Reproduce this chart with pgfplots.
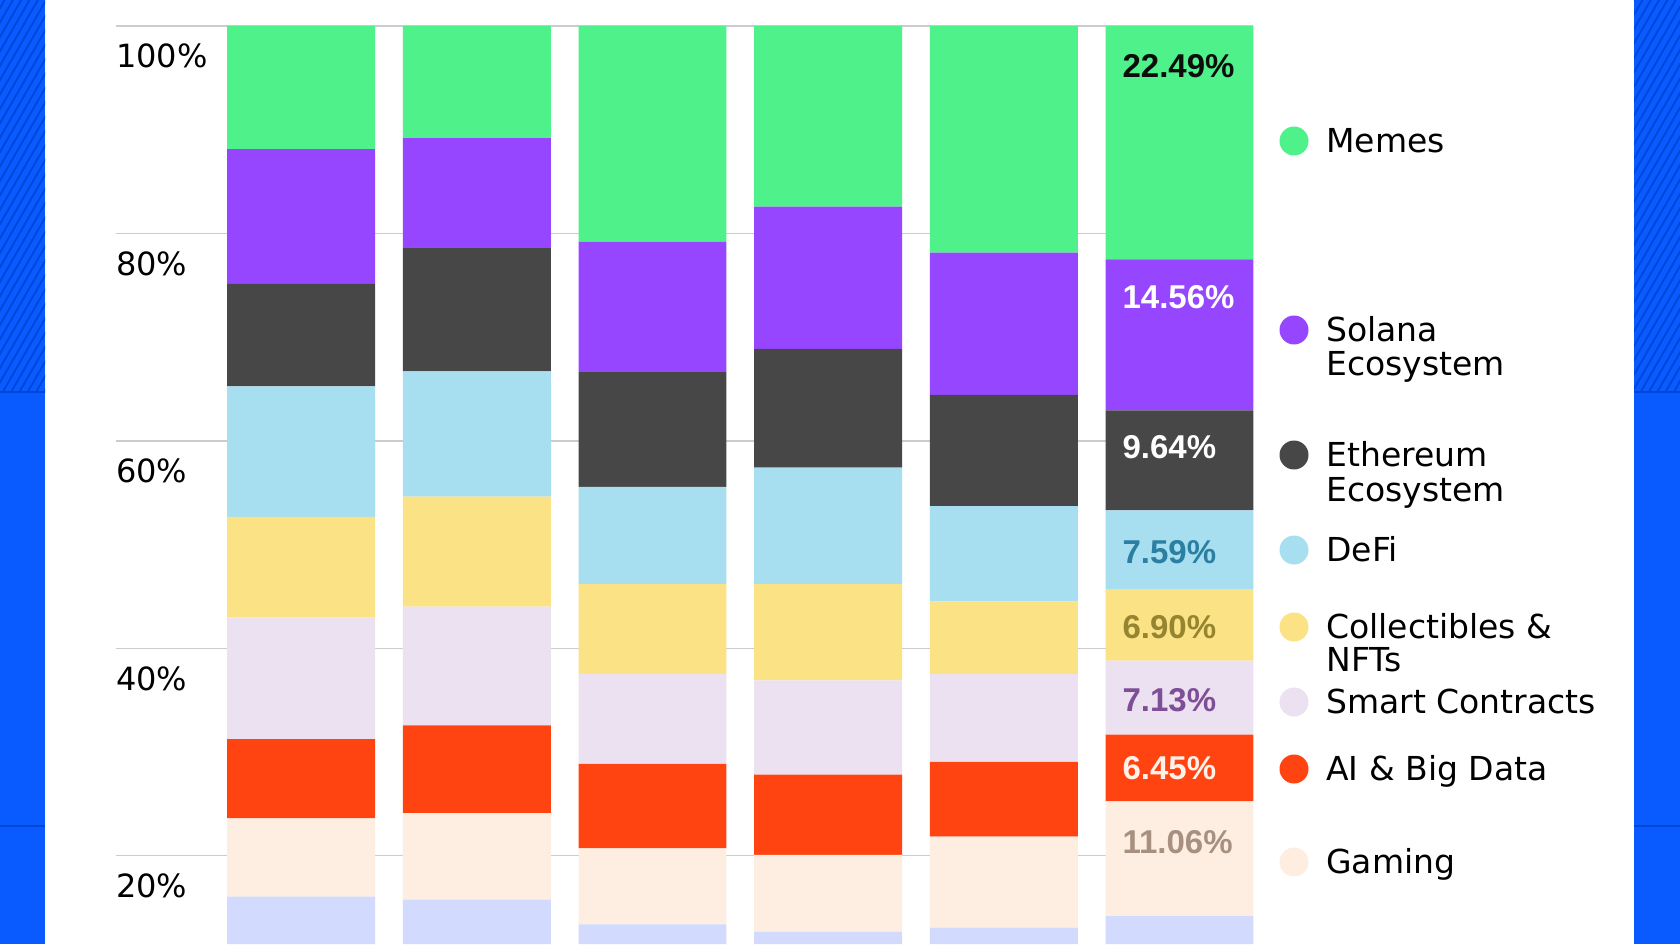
\documentclass[border=0pt]{standalone}
\usepackage{pgfplots}
\pgfplotsset{compat=1.18}
\usepackage{fontspec}
\setmainfont{DejaVu Sans}
\newfontfamily\lblfont{Liberation Sans}
\usetikzlibrary{patterns.meta}
\definecolor{cbblue}{HTML}{0A5BFF}
\definecolor{hatch}{HTML}{0046D8}
\definecolor{gridgray}{HTML}{CCCCCC}
\definecolor{cMemes}{HTML}{4FF28A}
\definecolor{cSol}{HTML}{9646FF}
\definecolor{cEth}{HTML}{474747}
\definecolor{cDefi}{HTML}{A7DFF0}
\definecolor{cColl}{HTML}{FBE285}
\definecolor{cSmart}{HTML}{ECE1F0}
\definecolor{cAI}{HTML}{FF4411}
\definecolor{cGame}{HTML}{FEEEE2}
\definecolor{cOther}{HTML}{D2DAFE}
\definecolor{tDefi}{HTML}{2B7FA0}
\definecolor{tColl}{HTML}{958530}
\definecolor{tSmart}{HTML}{7E4E96}
\definecolor{tGame}{HTML}{A89080}
\definecolor{tAI}{HTML}{FFF2EA}
\begin{document}
\begin{tikzpicture}[x=0.5pt,y=0.5pt]
\useasboundingbox (0,0) rectangle (1680,944);
\fill[white] (0,0) rectangle (1680,944);
\fill[cbblue] (0,0) rectangle (45,944);
\fill[cbblue] (1634,0) rectangle (1680,944);
\fill[pattern={Lines[angle=60,distance=3.6pt,line width=0.9pt]},pattern color=hatch] (0,552) rectangle (45,944);
\fill[pattern={Lines[angle=60,distance=3.6pt,line width=0.9pt]},pattern color=hatch] (1634,552) rectangle (1680,944);
\draw[hatch,line width=0.6pt] (0,552) -- (45,552) (1634,552) -- (1680,552);
\draw[hatch,line width=0.8pt] (0,118) -- (45,118) (1634,118) -- (1680,118);
\begin{axis}[at={(57.85pt,0pt)},anchor=south west,scale only axis,
  width=568.85pt,height=459pt,
  xmin=-1.055,xmax=5.42,ymin=11.5,ymax=100,
  ybar stacked,bar width=0.842,
  axis line style={draw=none},xtick=\empty,
  ytick={20,40,60,80,100},yticklabels={},major tick length=0pt,
  ymajorgrids,grid style={draw=gridgray,line width=0.6pt}]
% Other (bottom, partly cut off)
\addplot[fill=cOther,draw=none] coordinates {(0,16.08) (1,15.77) (2,13.40) (3,12.68) (4,13.09) (5,14.18)};
% Gaming
\addplot[fill=cGame,draw=none] coordinates {(0,7.53) (1,8.35) (2,7.32) (3,7.42) (4,8.77) (5,11.06)};
% AI & Big Data
\addplot[fill=cAI,draw=none] coordinates {(0,7.63) (1,8.46) (2,8.15) (3,7.74) (4,7.21) (5,6.45)};
% Smart Contracts
\addplot[fill=cSmart,draw=none] coordinates {(0,11.75) (1,11.44) (2,8.66) (3,9.07) (4,8.46) (5,7.13)};
% Collectibles & NFTs
\addplot[fill=cColl,draw=none] coordinates {(0,9.69) (1,10.62) (2,8.66) (3,9.28) (4,7.01) (5,6.90)};
% DeFi
\addplot[fill=cDefi,draw=none] coordinates {(0,12.58) (1,12.06) (2,9.38) (3,11.23) (4,9.17) (5,7.59)};
% Ethereum Ecosystem
\addplot[fill=cEth,draw=none] coordinates {(0,9.89) (1,11.96) (2,11.13) (3,11.45) (4,10.72) (5,9.64)};
% Solana Ecosystem
\addplot[fill=cSol,draw=none] coordinates {(0,12.99) (1,10.52) (2,12.48) (3,13.71) (4,13.71) (5,14.56)};
% Memes
\addplot[fill=cMemes,draw=none] coordinates {(0,11.86) (1,10.82) (2,20.82) (3,17.42) (4,21.86) (5,22.49)};
% anchor points for tick labels and value labels
\coordinate (T20) at (axis cs:-1.055,20);
\coordinate (T40) at (axis cs:-1.055,40);
\coordinate (T60) at (axis cs:-1.055,60);
\coordinate (T80) at (axis cs:-1.055,80);
\coordinate (T100) at (axis cs:-1.055,100);
\coordinate (L1) at (axis cs:4.673,95.06);
\coordinate (L2) at (axis cs:4.673,72.79);
\coordinate (L3) at (axis cs:4.673,58.34);
\coordinate (L4) at (axis cs:4.673,48.14);
\coordinate (L5) at (axis cs:4.673,40.98);
\coordinate (L6) at (axis cs:4.673,33.91);
\coordinate (L7) at (axis cs:4.673,27.33);
\coordinate (L8) at (axis cs:4.673,20.26);
\end{axis}
% y tick labels
\tikzset{tl/.style={anchor=base west,inner sep=0pt,yshift=-20.9pt,font=\fontsize{16}{18}\selectfont}}
\node[tl] at (T20) {20\%};
\node[tl] at (T40) {40\%};
\node[tl] at (T60) {60\%};
\node[tl] at (T80) {80\%};
\node[tl] at (T100) {100\%};
% value labels in last bar
\tikzset{vl/.style={anchor=base west,inner sep=0pt,font=\lblfont\bfseries\fontsize{16.5}{18}\selectfont}}
\node[vl,text=black!95] at (L1) {22.49\%};
\node[vl,text=white] at (L2) {14.56\%};
\node[vl,text=white] at (L3) {9.64\%};
\node[vl,text=tDefi] at (L4) {7.59\%};
\node[vl,text=tColl] at (L5) {6.90\%};
\node[vl,text=tSmart] at (L6) {7.13\%};
\node[vl,text=tAI] at (L7) {6.45\%};
\node[vl,text=tGame] at (L8) {11.06\%};
% legend
\tikzset{lg/.style={anchor=base west,inner sep=0pt,font=\fontsize{16.5}{18}\selectfont}}
\fill[cMemes] (1294,803) circle (14.5);
\node[lg] at (1326,791.4) {Memes};
\fill[cSol] (1294,614) circle (14.5);
\node[lg] at (1326,602.4) {Solana};
\node[lg] at (1326,568.4) {Ecosystem};
\fill[cEth] (1294,489) circle (14.5);
\node[lg] at (1326,477.4) {Ethereum};
\node[lg] at (1326,442.4) {Ecosystem};
\fill[cDefi] (1294,394) circle (14.5);
\node[lg] at (1326,382.4) {DeFi};
\fill[cColl] (1294,317) circle (14.5);
\node[lg] at (1326,305.4) {Collectibles \&};
\node[lg] at (1326,272.4) {NFTs};
\fill[cSmart] (1294,242) circle (14.5);
\node[lg] at (1326,230.4) {Smart Contracts};
\fill[cAI] (1294,175) circle (14.5);
\node[lg] at (1326,163.4) {AI \& Big Data};
\fill[cGame] (1294,82) circle (14.5);
\node[lg] at (1326,70.4) {Gaming};
\end{tikzpicture}
\end{document}
